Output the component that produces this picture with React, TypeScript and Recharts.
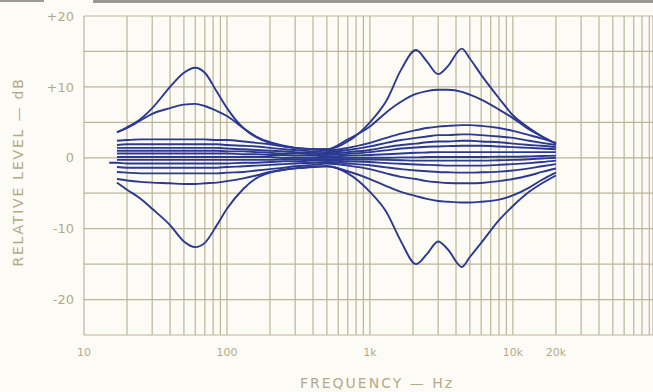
import React from 'react';
import { LineChart, Line, XAxis, YAxis, CartesianGrid } from 'recharts';

// frequency points (Hz) shared by every curve
const freqs = [15, 17, 20, 25, 30, 40, 50, 60, 70, 85, 100, 130, 160, 200, 250, 300, 400, 500,
  700, 1000, 1300, 1650, 2100, 2500, 3000, 3500, 4400, 5000, 6000, 8000, 10000, 13000, 16000, 20000];

// relative level (dB), top curve to bottom curve
const maxBoost = [null, 3.6, 4.3, 5.5, 7.0, 10.0, 12.0, 12.7, 12.0, 9.3, 7.0, 4.2, 2.9, 2.1, 1.6, 1.4, 1.2, 1.2,
  2.3, 5.0, 8.0, 12.4, 15.2, 13.6, 11.8, 12.9, 15.4, 14.0, 11.7, 8.4, 6.0, 4.2, 3.0, 2.0];
const broadBoost = [null, 3.6, 4.2, 5.3, 6.2, 7.0, 7.5, 7.6, 7.3, 6.6, 5.9, 4.2, 3.0, 2.2, 1.7, 1.4, 1.2, 1.2,
  2.6, 4.4, 6.4, 7.9, 9.0, 9.4, 9.6, 9.6, 9.3, 8.9, 8.2, 6.8, 5.6, 4.0, 3.0, 2.0];
const step1 = [null, 2.4, 2.5, 2.6, 2.6, 2.6, 2.6, 2.6, 2.6, 2.5, 2.5, 2.3, 2.1, 1.9, 1.6, 1.4, 1.2, 1.0,
  1.4, 2.1, 2.8, 3.4, 3.9, 4.2, 4.4, 4.5, 4.6, 4.6, 4.5, 4.2, 3.8, 3.2, 2.7, 2.1];
const step2 = [null, 1.8, 1.9, 1.9, 1.9, 1.9, 1.9, 1.9, 1.9, 1.9, 1.8, 1.7, 1.6, 1.4, 1.2, 1.1, 0.9, 0.8,
  1.1, 1.6, 2.1, 2.5, 2.8, 3.0, 3.2, 3.2, 3.3, 3.3, 3.2, 3.0, 2.8, 2.4, 2.1, 1.8];
const step3 = [null, 1.4, 1.4, 1.4, 1.4, 1.4, 1.4, 1.4, 1.4, 1.4, 1.3, 1.2, 1.1, 1.0, 0.9, 0.8, 0.7, 0.6,
  0.8, 1.1, 1.5, 1.8, 2.0, 2.2, 2.3, 2.3, 2.4, 2.4, 2.3, 2.2, 2.0, 1.8, 1.7, 1.5];
const step4 = [null, 1.0, 1.0, 1.0, 1.0, 1.0, 1.0, 1.0, 1.0, 1.0, 0.9, 0.9, 0.8, 0.7, 0.6, 0.6, 0.5, 0.4,
  0.55, 0.8, 1.05, 1.3, 1.45, 1.55, 1.6, 1.65, 1.7, 1.7, 1.7, 1.6, 1.5, 1.4, 1.3, 1.2];
const step5 = [null, 0.6, 0.6, 0.6, 0.6, 0.6, 0.6, 0.6, 0.6, 0.6, 0.6, 0.5, 0.5, 0.4, 0.4, 0.3, 0.3, 0.2,
  0.3, 0.4, 0.5, 0.6, 0.7, 0.75, 0.8, 0.8, 0.8, 0.8, 0.8, 0.8, 0.8, 0.8, 0.8, 0.8];
const step6 = [null, 0.1, 0.1, 0.1, 0.1, 0.1, 0.1, 0.1, 0.1, 0.1, 0.1, 0.1, 0.1, 0.1, 0.0, 0.0, 0.0, 0.0,
  0.0, 0.0, 0.0, 0.05, 0.05, 0.1, 0.1, 0.1, 0.1, 0.1, 0.1, 0.15, 0.15, 0.2, 0.25, 0.3];
const step7 = [null, -0.3, -0.3, -0.3, -0.3, -0.3, -0.3, -0.3, -0.3, -0.3, -0.3, -0.3, -0.3, -0.3, -0.2, -0.2, -0.2, -0.2,
  -0.2, -0.25, -0.3, -0.35, -0.4, -0.4, -0.4, -0.4, -0.4, -0.4, -0.4, -0.35, -0.3, -0.2, -0.1, 0.0];
const step8 = [-0.7, -0.7, -0.8, -0.8, -0.8, -0.8, -0.8, -0.8, -0.8, -0.8, -0.8, -0.7, -0.7, -0.6, -0.5, -0.5, -0.4, -0.4,
  -0.5, -0.6, -0.75, -0.85, -0.95, -1.0, -1.05, -1.1, -1.1, -1.1, -1.1, -1.0, -0.9, -0.75, -0.6, -0.4];
const step9 = [null, -1.3, -1.4, -1.4, -1.4, -1.4, -1.4, -1.4, -1.4, -1.4, -1.3, -1.2, -1.1, -1.0, -0.9, -0.8, -0.7, -0.6,
  -0.8, -1.05, -1.35, -1.6, -1.8, -1.9, -2.0, -2.05, -2.1, -2.1, -2.05, -1.95, -1.8, -1.5, -1.2, -0.9];
const step10 = [null, -2.0, -2.1, -2.2, -2.2, -2.2, -2.2, -2.2, -2.2, -2.2, -2.1, -2.0, -1.8, -1.6, -1.4, -1.2, -1.0, -0.8,
  -1.1, -1.6, -2.2, -2.7, -3.0, -3.3, -3.45, -3.55, -3.6, -3.6, -3.55, -3.3, -3.0, -2.5, -2.0, -1.5];
const broadCut = [null, -3.0, -3.2, -3.4, -3.5, -3.6, -3.7, -3.7, -3.6, -3.5, -3.3, -2.9, -2.5, -2.0, -1.7, -1.5, -1.3, -1.2,
  -1.9, -3.0, -4.0, -4.8, -5.4, -5.8, -6.1, -6.2, -6.3, -6.3, -6.2, -5.9, -5.3, -4.2, -3.1, -2.1];
const maxCut = [null, -3.5, -4.5, -5.8, -7.2, -9.5, -11.8, -12.6, -12.0, -9.5, -7.2, -4.4, -2.9, -2.1, -1.7, -1.5, -1.3, -1.2,
  -2.2, -4.8, -7.6, -11.8, -15.0, -13.6, -11.8, -12.9, -15.4, -14.0, -12.0, -8.8, -6.8, -4.8, -3.6, -2.5];

const curves = { maxBoost, broadBoost, step1, step2, step3, step4, step5, step6, step7, step8, step9, step10, broadCut, maxCut };

// axis ticks
const freqLabels: Record<number, string> = { 10: '10', 100: '100', 1000: '1k', 10000: '10k', 20000: '20k' };
const levelTicks = [-25, -20, -15, -10, -5, 0, 5, 10, 15, 20];
const gridFreqs = [1, 10, 100, 1000, 10000].flatMap((d) => [1, 2, 3, 4, 5, 6, 7, 8, 9].map((m) => m * d * 10));

const data = freqs.map((f, i) => {
  const row: Record<string, number | null> = { f };
  Object.entries(curves).forEach(([k, arr]) => { row[k] = arr[i]; });
  return row;
});

const ink = '#2b3990';
const paper = '#fcfbf6';
const tan = '#b3ab88';
const gridCol = '#bdb497';

export default function App() {
  return (
    <div style={{ position: 'absolute', left: 0, top: 0, width: 653, height: 392, background: paper, overflow: 'hidden', fontFamily: '"DejaVu Sans", sans-serif' }}>
      <div style={{ position: 'absolute', left: 0, top: 0, width: 44, height: 2, background: '#9b9a93' }} />
      <div style={{ position: 'absolute', left: 93, top: 0, width: 560, height: 3, background: '#9b9a93' }} />
      <LineChart width={653} height={392} data={data} margin={{ top: 16, right: 0, bottom: 0, left: 0 }}>
        <CartesianGrid stroke={gridCol} strokeWidth={1.2} />
        <XAxis
          dataKey="f"
          type="number"
          scale="log"
          domain={[10, 95500]}
          allowDataOverflow
          ticks={gridFreqs}
          interval={0}
          tickFormatter={(v: number) => freqLabels[v] ?? ''}
          axisLine={false}
          tickLine={false}
          tickSize={0}
          tickMargin={13}
          height={57}
          tick={{ fill: tan, fontSize: 11 }}
        />
        <YAxis
          type="number"
          domain={[-25, 20]}
          ticks={levelTicks}
          interval={0}
          tickFormatter={(v: number) => (v % 10 !== 0 ? '' : v > 0 ? `+${v}` : `${v}`)}
          axisLine={false}
          tickLine={false}
          tickSize={0}
          tickMargin={10}
          width={84}
          tick={{ fill: tan, fontSize: 13 }}
        />
        {Object.keys(curves).map((k) => (
          <Line
            key={k}
            type="monotone"
            dataKey={k}
            stroke={ink}
            strokeWidth={1.9}
            dot={false}
            activeDot={false}
            isAnimationActive={false}
          />
        ))}
      </LineChart>
      <div style={{ position: 'absolute', left: 18, top: 172, transform: 'translate(-50%, -50%) rotate(-90deg)', whiteSpace: 'nowrap', color: tan, fontSize: 14, letterSpacing: 1.8 }}>
        RELATIVE LEVEL — dB
      </div>
      <div style={{ position: 'absolute', left: 377, top: 383, transform: 'translate(-50%, -50%)', whiteSpace: 'nowrap', color: tan, fontSize: 14, letterSpacing: 2 }}>
        FREQUENCY — Hz
      </div>
    </div>
  );
}
